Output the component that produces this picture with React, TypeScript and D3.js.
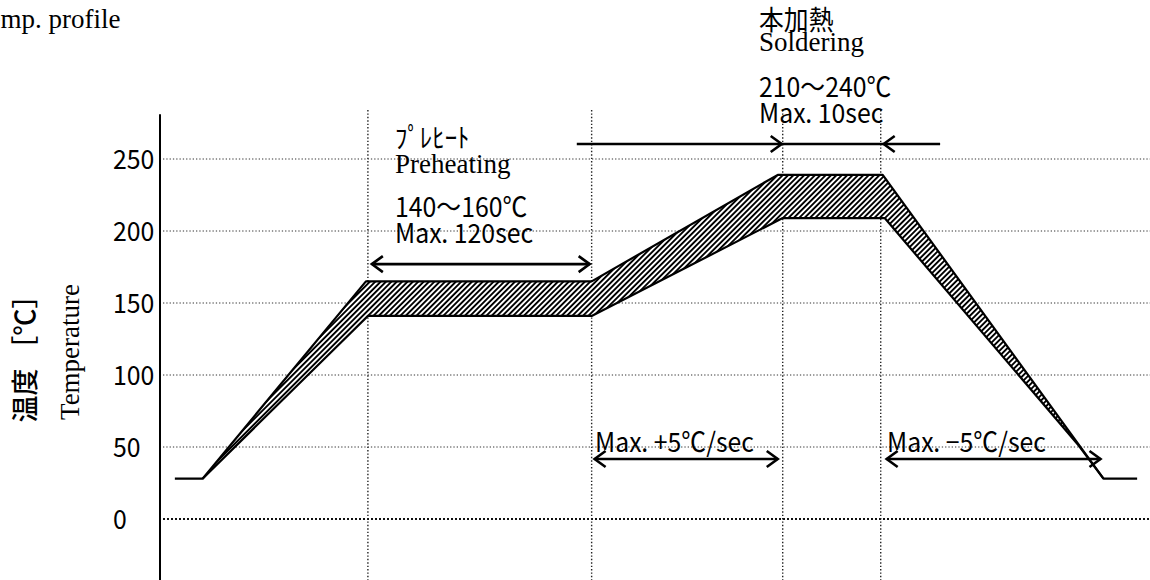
import * as d3 from 'd3';
import type { ReactNode } from 'react';

// reflow profile, time in arbitrary units (0–100 across the plot), temperature in °C
const yTicks = [0, 50, 100, 150, 200, 250];
const phaseTimes = [21.0, 43.6, 62.9, 72.8];

const upperTime = [4.3, 20.8, 43.6, 62.4, 73.0, 95.3];
const upperTemp = [28, 165, 165, 239, 239, 28];

const lowerTime = [1.5, 4.3, 21.0, 43.6, 62.9, 73.2, 92.8, 95.3, 98.7];
const lowerTemp = [28, 28, 141, 141, 209, 209, 51, 28, 28];

const W = 1150;
const H = 580;

const gothic = "'Noto Sans CJK JP', 'Noto Sans CJK SC', sans-serif";
const serif = "'Liberation Serif', 'Times New Roman', serif";

type P = [number, number];

// condensed gothic text, a bit like the narrow half-width face in the original
function GText({ x, y, children, size = 27 }: { x: number; y: number; children: ReactNode; size?: number }) {
  return (
    <text transform={`translate(${x},${y}) scale(0.92,1)`} fontFamily={gothic} fontSize={size}>
      {children}
    </text>
  );
}

export default function App() {
  const x = d3.scaleLinear().domain([0, 100]).range([160, 1150]);
  const y = d3.scaleLinear().domain([0, 250]).range([519, 159]);

  const upper: P[] = upperTime.map((t, i) => [t, upperTemp[i]]);
  const lower: P[] = lowerTime.map((t, i) => [t, lowerTemp[i]]);

  const line = d3.line<P>().x((d) => x(d[0])).y((d) => y(d[1]));

  // hatched band between the two limits
  const lowerBand = lower.filter((d) => d[0] >= upperTime[0] && d[0] <= upperTime[upperTime.length - 1]);
  const band = [...upper, ...lowerBand.slice().reverse()];

  const head = (px: number, py: number, dir: 1 | -1) =>
    `M${px - dir * 11},${py - 8}L${px},${py}L${px - dir * 11},${py + 8}`;

  const hArrow = (t0: number, t1: number, temp: number, left: boolean, right: boolean, key: string) => {
    const x0 = x(t0);
    const x1 = x(t1);
    const py = y(temp);
    return (
      <g key={key} stroke="#000" strokeWidth={2.6} fill="none">
        <line x1={x0} x2={x1} y1={py} y2={py} />
        {left && <path d={head(x0, py, -1)} />}
        {right && <path d={head(x1, py, 1)} />}
      </g>
    );
  };

  const topY = y(284);

  return (
    <div style={{ position: 'absolute', left: 0, top: 0 }}>
      <svg width={W} height={H} style={{ display: 'block', background: '#fff' }}>
        <defs>
          <pattern id="hatch" width={3.8} height={3.8} patternUnits="userSpaceOnUse" patternTransform="rotate(45)">
            <rect width={3.8} height={3.8} fill="#fff" />
            <rect width={1.9} height={3.8} fill="#000" />
          </pattern>
        </defs>

        <text x={-26} y={28} fontFamily={serif} fontSize={27}>Temp. profile</text>

        {/* grid */}
        {yTicks.map((v) => (
          <line
            key={`h${v}`}
            x1={163}
            x2={W}
            y1={y(v)}
            y2={y(v)}
            stroke={v === 0 ? '#111' : '#333'}
            strokeWidth={v === 0 ? 2 : 1}
            strokeDasharray={v === 0 ? '2,2' : '1.3,2'}
          />
        ))}
        {phaseTimes.map((t) => (
          <line
            key={`v${t}`}
            x1={x(t)}
            x2={x(t)}
            y1={topY}
            y2={H}
            stroke="#222"
            strokeWidth={1.4}
            strokeDasharray="1.4,2"
          />
        ))}

        {/* y axis */}
        <line x1={x(0)} x2={x(0)} y1={y(281)} y2={H} stroke="#000" strokeWidth={2} />
        {yTicks.map((v) => (
          <GText key={`t${v}`} x={113} y={y(v) + 9.5}>
            {v}
          </GText>
        ))}
        <text
          transform={`translate(23,${y(116)}) rotate(-90)`}
          textAnchor="middle"
          dominantBaseline="central"
          fontFamily={gothic}
          fontSize={27}
          fontWeight={500}
        >
          温度 ［℃］
        </text>
        <text
          transform={`translate(79,${y(116)}) rotate(-90)`}
          textAnchor="middle"
          fontFamily={serif}
          fontSize={27}
        >
          Temperature
        </text>

        {/* profile band */}
        <path d={line(band) + 'Z'} fill="url(#hatch)" stroke="none" />
        <path d={line(upper) ?? ''} fill="none" stroke="#000" strokeWidth={2.2} strokeLinejoin="round" />
        <path d={line(lower) ?? ''} fill="none" stroke="#000" strokeWidth={2.2} strokeLinejoin="round" />

        {/* preheating */}
        <GText x={395} y={148}>ﾌﾟﾚﾋｰﾄ</GText>
        <text x={395} y={173} fontFamily={serif} fontSize={27}>Preheating</text>
        <GText x={395} y={217}>140～160℃</GText>
        <GText x={395} y={243}>Max. 120sec</GText>
        {hArrow(21.4, 43.4, 177, true, true, 'pre')}

        {/* soldering */}
        <GText x={759} y={30}>本加熱</GText>
        <text x={759} y={51} fontFamily={serif} fontSize={27}>Soldering</text>
        <GText x={759} y={97}>210～240℃</GText>
        <GText x={759} y={123}>Max. 10sec</GText>
        {hArrow(42.1, 78.8, 260.4, false, false, 'sol')}
        <g stroke="#000" strokeWidth={2.6} fill="none">
          <path d={head(x(62.8), y(260.4), 1)} />
          <path d={head(x(73.1), y(260.4), -1)} />
        </g>

        {/* ramp rates */}
        <GText x={595} y={452}>Max. +5℃/sec</GText>
        {hArrow(43.9, 62.4, 41.7, true, true, 'up')}
        <GText x={887} y={452}>Max. −5℃/sec</GText>
        {hArrow(73.4, 95.0, 41.7, true, true, 'down')}
      </svg>
    </div>
  );
}
